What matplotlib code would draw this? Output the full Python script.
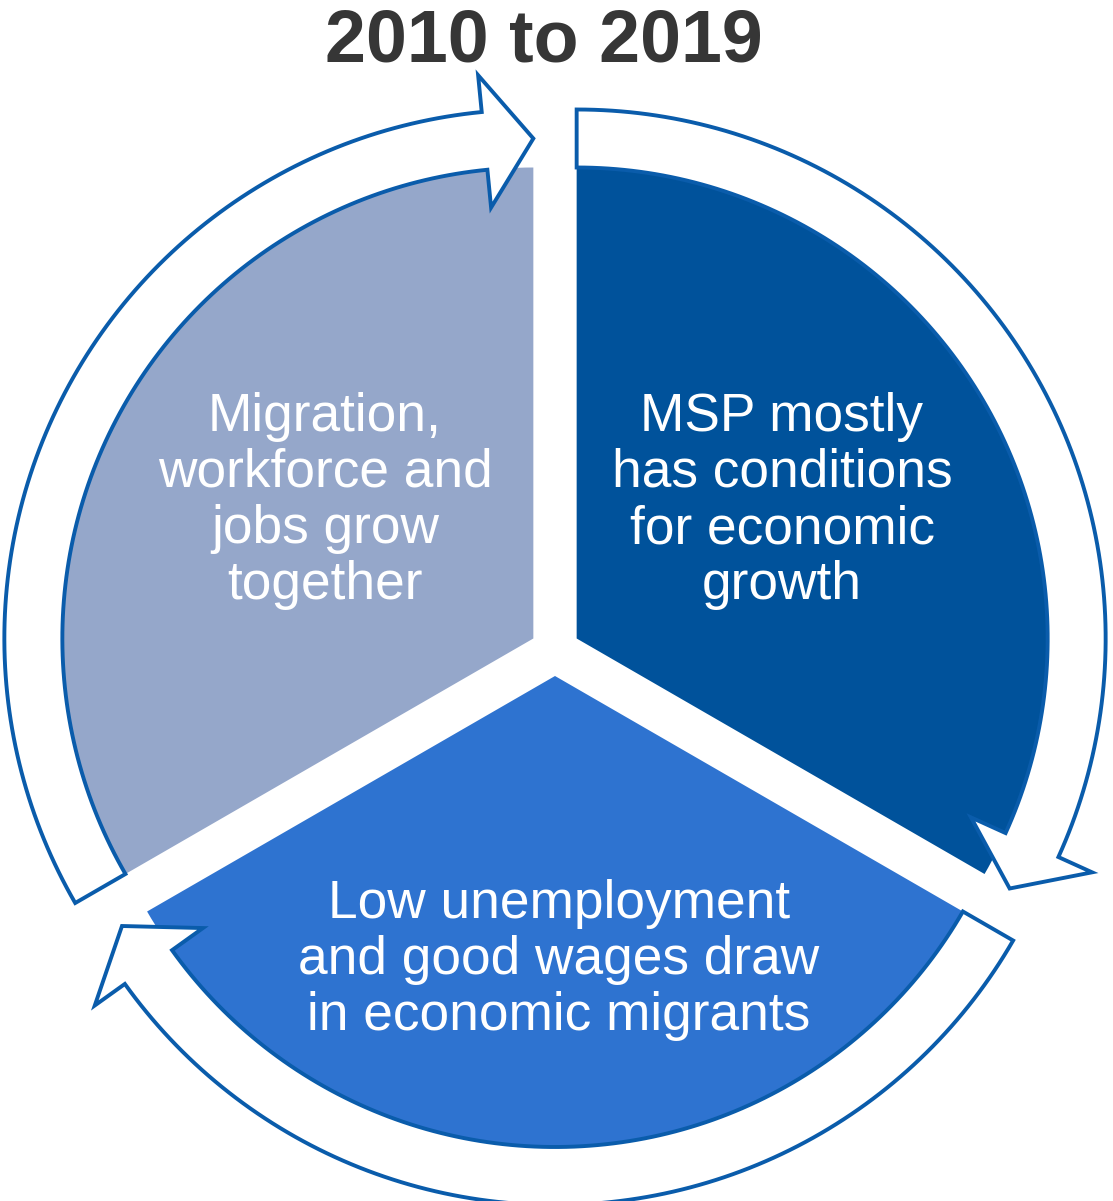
import numpy as np
import matplotlib
matplotlib.use("Agg")
from matplotlib import pyplot as plt
from matplotlib.patches import Wedge, Polygon

# three equal segments of the cycle, clockwise from the top
segments = [1, 1, 1]
labels = ["MSP mostly\nhas conditions\nfor economic\ngrowth",
          "Low unemployment\nand good wages draw\nin economic migrants",
          "Migration,\nworkforce and\njobs grow\ntogether"]
colors = ["#00529B", "#2E73D0", "#95A7CA"]
title = "2010 to 2019"

W, H = 1113, 1201
center = (555, H - 651)
r_wedge = 471
explode = 25
r_out = 529
r_head_in, r_head_out = 433, 566
head_deg = 5.6
edge = "#0A5CAB"


def arrow_points(cx, cy, a0, a1):
    # curved band from a0 down to a1 (clockwise), arrowhead at a1
    back = a1 + head_deg
    t = np.radians(np.linspace(a0, back, 120))
    outer = np.column_stack([cx + r_out * np.cos(t), cy + r_out * np.sin(t)])
    inner = np.column_stack([cx + r_wedge * np.cos(t), cy + r_wedge * np.sin(t)])[::-1]
    b = np.radians(back)
    e = np.radians(a1)
    rm = (r_wedge + r_out) / 2
    head = np.array([
        [cx + r_head_out * np.cos(b), cy + r_head_out * np.sin(b)],
        [cx + rm * np.cos(e), cy + rm * np.sin(e)],
        [cx + r_head_in * np.cos(b), cy + r_head_in * np.sin(b)],
    ])
    return np.vstack([outer, head, inner])


fig = plt.figure(figsize=(W / 100, H / 100), dpi=100)
ax = fig.add_axes([0, 0, 1, 1])
ax.set_xlim(0, W)
ax.set_ylim(0, H)
ax.axis("off")

total = sum(segments)
start = 90.0
wedges = []
for size, lab, col in zip(segments, labels, colors):
    span = 360.0 * size / total
    a0, a1 = start, start - span
    mid = np.radians((a0 + a1) / 2)
    cx = center[0] + explode * np.cos(mid)
    cy = center[1] + explode * np.sin(mid)
    ax.add_patch(Wedge((cx, cy), r_wedge, a1, a0, facecolor=col, edgecolor="none"))
    wedges.append((cx, cy, a0, a1, mid, lab))
    start = a1

for cx, cy, a0, a1, mid, lab in wedges:
    ax.add_patch(Polygon(arrow_points(cx, cy, a0, a1), closed=True,
                         facecolor="white", edgecolor=edge, linewidth=2.8,
                         joinstyle="miter"))

text_pos = [(782, H - 501), (559, H - 960), (325, H - 501)]
for (tx, ty), (cx, cy, a0, a1, mid, lab) in zip(text_pos, wedges):
    ax.text(tx, ty, lab, ha="center", va="center", multialignment="center",
            color="white", fontsize=38.3, family=["Liberation Sans", "DejaVu Sans"],
            linespacing=1.16)

ax.text(544, H - 62, title, ha="center", va="baseline", fontsize=53,
        fontweight="bold", color="#363636", family=["Liberation Sans", "DejaVu Sans"])

fig.savefig("out.png", dpi=100)
